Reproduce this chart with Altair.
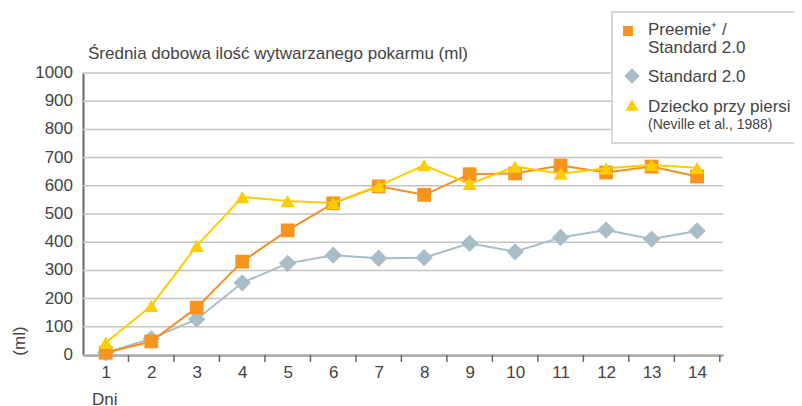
import altair as alt
import pandas as pd

days = list(range(1, 15))
preemie = [8, 48, 168, 331, 442, 538, 598, 568, 641, 644, 672, 647, 668, 633]
standard = [8, 58, 127, 256, 325, 354, 343, 345, 396, 366, 417, 443, 411, 440]
breast = [44, 174, 387, 560, 546, 539, 600, 673, 607, 668, 643, 662, 674, 664]
y_ticks = list(range(0, 1001, 100))
boundaries = [1.5, 2.5, 3.5, 4.5, 5.5, 6.5, 7.5, 8.5, 9.5, 10.5, 11.5, 12.5, 13.5, 14.5]

FONT = "Liberation Sans"
TXT = "#444444"
ORANGE = "#F7941D"
ORANGE_LINE = "#F39022"
BLUE = "#A8BDC7"
YELLOW = "#FFCC00"

W, H = 640, 282

xscale = alt.Scale(domain=[0.5, 14.57], nice=False, zero=False)
yscale = alt.Scale(domain=[0, 1000], nice=False)

x_axis = alt.Axis(values=days, tickCount=14, tickMinStep=1, ticks=False, grid=False, title=None,
                  domainColor="#666666", domainWidth=2, labelFont=FONT,
                  labelFontSize=17, labelColor=TXT, labelPadding=9,
                  labelFlush=False, labelOverlap=False, format="d")
y_axis = alt.Axis(ticks=False, grid=False, labels=False, title=None,
                  domainColor="#666666", domainWidth=2)

def xe(field):
    return alt.X(field, scale=xscale, axis=x_axis)

def ye(field):
    return alt.Y(field, scale=yscale, axis=y_axis)

ydf = pd.DataFrame({"v": y_ticks})
grid = alt.Chart(ydf).mark_rule(color="#c4c4c4", strokeWidth=1.5).encode(
    y=ye("v:Q"), x=alt.value(0), x2=alt.value(W))
ylabels = alt.Chart(ydf).mark_text(align="right", baseline="middle", font=FONT,
                                   fontSize=17, color=TXT).encode(
    y=ye("v:Q"), x=alt.value(-10), text=alt.Text("v:Q", format="d"))

def series_df(vals):
    return pd.DataFrame({"day": days, "value": vals})

def line_layer(vals, color, shape, size, fill):
    base = alt.Chart(series_df(vals)).encode(x=xe("day:Q"), y=ye("value:Q"))
    line = base.mark_line(color=color, strokeWidth=2)
    pt = base.mark_point(shape=shape, size=size, filled=True, color=fill, opacity=1)
    return [line, pt]

layers = [grid, ylabels]
layers += line_layer(standard, BLUE, "diamond", 300, BLUE)
layers += line_layer(preemie, ORANGE_LINE, "square", 190, ORANGE)
layers += line_layer(breast, YELLOW, "triangle-up", 200, YELLOW)

ticks = alt.Chart(pd.DataFrame({"b": boundaries})).mark_rule(color="#666666", strokeWidth=1.5).encode(
    x=xe("b:Q"), y=alt.value(H), y2=alt.value(H + 7))

one = pd.DataFrame({"k": [0]})

def text(s, x, y, size=17, align="left", angle=0):
    kw = dict(align=align, baseline="alphabetic", fontSize=size, font=FONT, color=TXT)
    if angle:
        kw["angle"] = angle
        kw["baseline"] = "middle"
    return alt.Chart(one).mark_text(**kw).encode(x=alt.value(x), y=alt.value(y), text=alt.value(s))

title = text("Średnia dobowa ilość wytwarzanego pokarmu (ml)", 5, -14)
ylab = text("(ml)", -63, 268, align="center", angle=270)
xlab = text("Dni", 9, 332)

legend_box = alt.Chart(one).mark_rect(fill="white", stroke="#cccccc", strokeWidth=1.5).encode(
    x=alt.value(529), x2=alt.value(800), y=alt.value(-61), y2=alt.value(70))

def sym(shape, size, color, x, y):
    return alt.Chart(one).mark_point(shape=shape, size=size, filled=True, color=color, opacity=1).encode(
        x=alt.value(x), y=alt.value(y))

legend = [
    legend_box,
    sym("square", 100, ORANGE, 545, -42),
    text("Preemie\u207a /", 565, -38),
    text("Standard 2.0", 565, -20),
    sym("diamond", 240, BLUE, 549, 3),
    text("Standard 2.0", 565, 9),
    sym("triangle-up", 170, YELLOW, 549, 32),
    text("Dziecko przy piersi", 565, 39),
    text("(Neville et al., 1988)", 565, 56, size=14),
]

chart = alt.layer(*layers, ticks, *legend, title, ylab, xlab).properties(
    width=W, height=H,
    padding={"left": 75, "top": 65, "right": 71, "bottom": 51},
    autosize="none",
).configure_view(stroke=None)

chart.save("out.html", embed_options={"renderer": "svg", "actions": False})
